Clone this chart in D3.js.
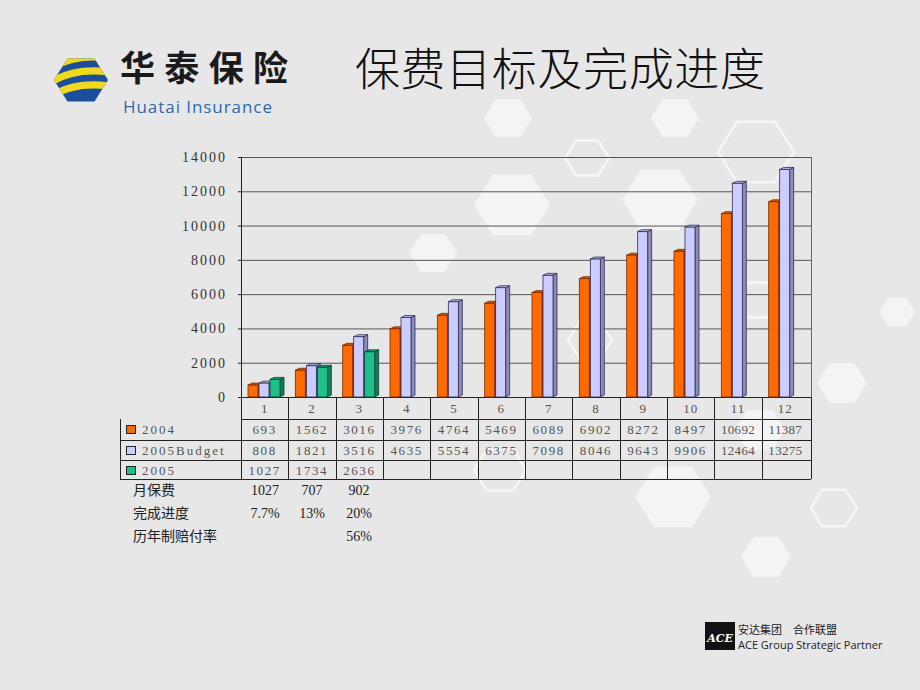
<!DOCTYPE html>
<html><head><meta charset="utf-8">
<script src="https://cdn.jsdelivr.net/npm/d3@7"></script>
<style>
html,body{margin:0;padding:0;background:#e7e7e7;}
svg{display:block;}
</style></head>
<body>
<svg id="c" width="920" height="690"></svg>
<script>
const months = ["1","2","3","4","5","6","7","8","9","10","11","12"];
const seriesNames = ["2004","2005Budget","2005"];
const s2004 = [693,1562,3016,3976,4764,5469,6089,6902,8272,8497,10692,11387];
const sBudget = [808,1821,3516,4635,5554,6375,7098,8046,9643,9906,12464,13275];
const s2005 = [1027,1734,2636];
const yTicks = [0,2000,4000,6000,8000,10000,12000,14000];
const noteLabels = ["月保费","完成进度","历年制赔付率"];
const noteMonthly = ["1027","707","902"];
const noteProgress = ["7.7%","13%","20%"];
const noteClaim = ["","","56%"];

const colors = [
  {front:"#ff6a00", top:"#d95a00", side:"#b04400", edge:"#7a2a00"},
  {front:"#ccccff", top:"#b8b8ee", side:"#8c8cb8", edge:"#2e2e55"},
  {front:"#1fbf8c", top:"#18a078", side:"#137a5c", edge:"#0b4233"}
];

const svg = d3.select("#c");

// decorative hexagons (flat-top)
function hexPath(cx,cy,r){
  const pts=d3.range(6).map(i=>{const a=Math.PI/3*i;return [cx+r*Math.cos(a),cy+r*Math.sin(a)*0.92];});
  return "M"+pts.map(p=>p.join(",")).join("L")+"Z";
}
const hexes=[
  [508,118,24,"f"],[675,118,24,"f"],[433,253,24,"f"],[512,205,38,"f"],[660,200,38,"f"],
  [587,158,22,"o"],[756,152,38,"o"],[897,312,18,"f"],[842,383,25,"f"],[834,508,23,"o"],
  [766,557,25,"f"],[673,497,38,"f"],[590,340,22,"o"],[757,300,22,"o"],[500,470,26,"o"],
  [760,430,25,"f"]
];
svg.append("g").selectAll("path").data(hexes).join("path")
  .attr("d",d=>hexPath(d[0],d[1],d[2]))
  .attr("fill",d=>d[3]==="f"?"#f4f4f4":"none")
  .attr("stroke",d=>d[3]==="o"?"#f6f6f6":"none")
  .attr("stroke-width",2.5);

// Logo
const logo=svg.append("g");
const lg=logo.append("g");
const clip=svg.append("defs").append("clipPath").attr("id","hx");
clip.append("path").attr("d",hexPath(81,80,27));
lg.attr("clip-path","url(#hx)");
lg.append("rect").attr("x",50).attr("y",50).attr("width",62).attr("height",62).attr("fill","#1b4f9c");
[0,1,2].forEach(i=>{
  lg.append("path").attr("d",`M45,${72+i*14} Q75,${50+i*14} 120,${60+i*14}`)
    .attr("stroke","#f2d81c").attr("stroke-width",7).attr("fill","none");
});
logo.append("text").attr("x",120).attr("y",81).text("华泰保险")
  .attr("font-family","Noto Sans CJK SC").attr("font-size",35).attr("font-weight",700).attr("fill","#1a1a1a")
  .attr("textLength",168);
logo.append("text").attr("x",123).attr("y",113).text("Huatai Insurance")
  .attr("font-family","Open Sans").attr("font-size",17).attr("fill","#2a6ab0").attr("textLength",149);

// Title
svg.append("text").attr("x",355).attr("y",86).text("保费目标及完成进度")
  .attr("font-family","Noto Sans CJK SC").attr("font-size",45).attr("font-weight",300).attr("fill","#111")
  .attr("textLength",410);

// Chart
const x0=241,x1=811;
const x=d3.scaleBand().domain(months).range([241,809]).paddingInner(0);
const y=d3.scaleLinear().domain([0,14000]).range([397,157]);
const serif="Liberation Serif, DejaVu Serif, serif";
const g=svg.append("g");

// gridlines
g.selectAll("line.grid").data(yTicks).join("line")
  .attr("x1",x0).attr("x2",x1).attr("y1",d=>y(d)+0.5).attr("y2",d=>y(d)+0.5)
  .attr("stroke",d=>d===0?"#222":"#555").attr("stroke-width",1);
g.append("line").attr("x1",x1+0.5).attr("x2",x1+0.5).attr("y1",y(14000)).attr("y2",y(0)).attr("stroke","#666");
g.append("line").attr("x1",x0+0.5).attr("x2",x0+0.5).attr("y1",y(14000)).attr("y2",y(0)+1).attr("stroke","#222");
g.selectAll("line.tk").data(yTicks).join("line")
  .attr("x1",x0-3).attr("x2",x0).attr("y1",d=>y(d)+0.5).attr("y2",d=>y(d)+0.5).attr("stroke","#222");
g.selectAll("text.yl").data(yTicks).join("text")
  .attr("x",227).attr("y",d=>y(d)+5).attr("text-anchor","end").text(d=>d)
  .attr("font-family",serif).attr("font-size",14).attr("fill","#333").attr("letter-spacing",2);

// bars
const barW=10, depth=4, offs=[7,18,29];
const allSeries=[s2004,sBudget,s2005];
allSeries.forEach((vals,si)=>{
  const c=colors[si];
  const bg=g.append("g");
  vals.forEach((v,i)=>{
    const bx=x(months[i])+offs[si];
    const by=y(v), bb=y(0);
    bg.append("path").attr("d",`M${bx+barW},${by} L${bx+barW+depth},${by-2} L${bx+barW+depth},${bb-2} L${bx+barW},${bb} Z`)
      .attr("fill",c.side).attr("stroke",c.edge).attr("stroke-width",0.8);
    bg.append("path").attr("d",`M${bx},${by} L${bx+depth},${by-2} L${bx+barW+depth},${by-2} L${bx+barW},${by} Z`)
      .attr("fill",c.top).attr("stroke",c.edge).attr("stroke-width",0.8);
    bg.append("rect").attr("x",bx).attr("y",by).attr("width",barW).attr("height",bb-by)
      .attr("fill",c.front).attr("stroke",c.edge).attr("stroke-width",0.8);
  });
});

// data table
const rowsY=[397,419,440,460,479];
const tg=svg.append("g");
const lineC="#222";
tg.append("line").attr("x1",x0).attr("x2",x1).attr("y1",rowsY[1]+0.5).attr("y2",rowsY[1]+0.5).attr("stroke",lineC);
[2,3,4].forEach(r=>tg.append("line").attr("x1",120).attr("x2",x1).attr("y1",rowsY[r]+0.5).attr("y2",rowsY[r]+0.5).attr("stroke",lineC));
tg.append("line").attr("x1",120.5).attr("x2",120.5).attr("y1",rowsY[1]).attr("y2",rowsY[4]).attr("stroke",lineC);
const colEdges=months.map(m=>x(m)).concat([x1]);
tg.selectAll("line.col").data(colEdges).join("line")
  .attr("x1",d=>Math.round(d)+0.5).attr("x2",d=>Math.round(d)+0.5).attr("y1",rowsY[0]).attr("y2",rowsY[4]).attr("stroke",lineC);
tg.selectAll("text.hd").data(months).join("text")
  .attr("x",d=>x(d)+x.bandwidth()/2).attr("y",rowsY[0]+16).attr("text-anchor","middle").text(d=>d)
  .attr("font-family",serif).attr("font-size",13).attr("fill","#555").attr("letter-spacing",1);
allSeries.forEach((vals,si)=>{
  const ry=rowsY[si+1];
  tg.append("rect").attr("x",126.5).attr("y",ry+6.5).attr("width",9).attr("height",8)
    .attr("fill",colors[si].front).attr("stroke","#222");
  tg.append("text").attr("x",142).attr("y",ry+15).text(seriesNames[si])
    .attr("font-family",serif).attr("font-size",13).attr("fill","#555").attr("letter-spacing",2);
  tg.selectAll(null).data(vals).join("text")
    .attr("x",(d,i)=>x(months[i])+x.bandwidth()/2).attr("y",ry+15).attr("text-anchor","middle").text(d=>d)
    .attr("font-family",serif).attr("font-size",13).attr("fill","#555")
    .attr("letter-spacing",d=>String(d).length>4?0.3:1.6);
});

// notes below
const ng=svg.append("g");
const noteY=[495,518,541];
noteLabels.forEach((t,i)=>{
  ng.append("text").attr("x",133).attr("y",noteY[i]).text(t)
    .attr("font-family","Noto Sans CJK SC").attr("font-size",14).attr("fill","#222");
});
const noteRows=[noteMonthly,noteProgress,noteClaim];
const noteCx=[265,312,359];
noteRows.forEach((row,ri)=>{
  ng.selectAll(null).data(row).join("text")
    .attr("x",(d,i)=>noteCx[i]).attr("y",noteY[ri]).attr("text-anchor","middle").text(d=>d)
    .attr("font-family",serif).attr("font-size",14).attr("fill","#222");
});

// ACE logo
const ace=svg.append("g");
ace.append("rect").attr("x",705).attr("y",622).attr("width",30).attr("height",28).attr("fill","#111");
ace.append("text").attr("x",720).attr("y",642).attr("text-anchor","middle").text("ACE")
  .attr("font-family","DejaVu Serif").attr("font-style","italic").attr("font-weight",700).attr("font-size",11).attr("fill","#fff");
ace.append("text").attr("x",738).attr("y",634).text("安达集团　合作联盟")
  .attr("font-family","Noto Sans CJK SC").attr("font-size",11).attr("fill","#222");
ace.append("text").attr("x",738).attr("y",649).text("ACE Group  Strategic Partner")
  .attr("font-family","Open Sans").attr("font-size",11).attr("fill","#222");
</script>
</body></html>
